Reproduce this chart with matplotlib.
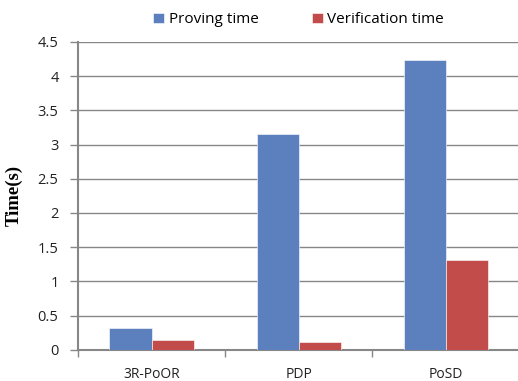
import numpy as np
import matplotlib
matplotlib.use('Agg')
import matplotlib.pyplot as plt
from matplotlib.ticker import FixedLocator, NullFormatter, FixedFormatter

schemes = ['3R-PoOR', 'PDP', 'PoSD']
proving_time = [0.32, 3.15, 4.24]
verification_time = [0.14, 0.12, 1.32]

blue = '#5B80BD'
red = '#C24C4A'
grey = '#878787'

plt.rcParams['font.family'] = ['Open Sans', 'DejaVu Sans']

fig = plt.figure(figsize=(5.18, 3.81), dpi=100)
ax = fig.add_axes([0.1506, 0.0814, 0.852, 0.809])

x = np.arange(len(schemes))
w = 0.286
ax.bar(x - w / 2, proving_time, w, color=blue, edgecolor='white', linewidth=0.4,
       label='Proving time', zorder=3)
ax.bar(x + w / 2, verification_time, w, color=red, edgecolor='white', linewidth=0.4,
       label='Verification time', zorder=3)

ax.set_xlim(-0.5, 2.5)
ax.set_ylim(0, 4.5)
yt = np.arange(0, 4.51, 0.5)
ax.yaxis.set_major_locator(FixedLocator(yt))
ax.yaxis.set_major_formatter(FixedFormatter([f'{v:g}' for v in yt]))

# category boundaries carry the tick marks, names sit in between
ax.xaxis.set_major_locator(FixedLocator([-0.5, 0.5, 1.5, 2.5]))
ax.xaxis.set_major_formatter(NullFormatter())
ax.xaxis.set_minor_locator(FixedLocator(x))
ax.xaxis.set_minor_formatter(FixedFormatter(schemes))
ax.tick_params(axis='x', which='minor', length=0, pad=12, labelsize=10, labelcolor='#222222')
ax.tick_params(axis='x', which='major', length=5, width=1, color=grey, direction='out')
ax.tick_params(axis='y', length=6, width=1, color=grey, pad=8, labelsize=10.5, labelcolor='#222222')

ax.grid(axis='y', color=grey, linewidth=1, zorder=0)
for side in ['top', 'right']:
    ax.spines[side].set_visible(False)
for side in ['left', 'bottom']:
    ax.spines[side].set_color(grey)
    ax.spines[side].set_linewidth(1.5)

ax.set_ylabel('Time(s)', family='Liberation Serif', fontweight='bold', fontsize=13.5)
ax.yaxis.set_label_coords(-0.125, 0.5)

ax.legend(loc='upper center', bbox_to_anchor=(0.5, 1.14), ncol=2, frameon=False,
          fontsize=11, handlelength=0.7, handleheight=0.7, handletextpad=0.3,
          columnspacing=3.5)

fig.savefig('out.png', dpi=100)
